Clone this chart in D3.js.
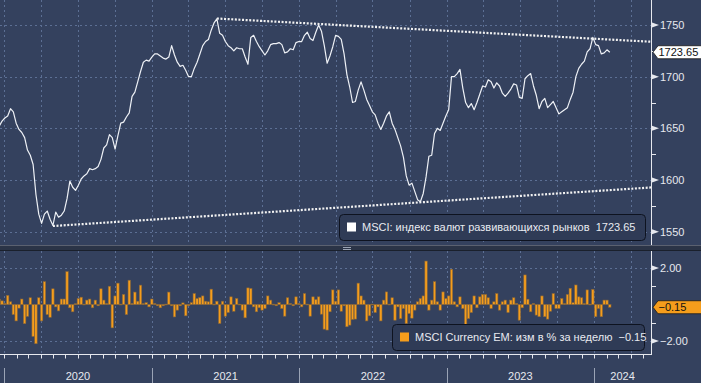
<!DOCTYPE html>
<html>
<head>
<meta charset="utf-8">
<script src="https://cdn.jsdelivr.net/npm/d3@7/dist/d3.min.js"></script>
<style>
  body { margin: 0; background: #34415e; }
  svg { display: block; font-family: "Liberation Sans", Arial, sans-serif; }
</style>
</head>
<body>
<div id="chart"></div>
<script>
// weekly series, first point on Fri 20 Dec 2019
const firstWeek = new Date(2019, 11, 20);

const lineValues = [
  1652, 1657, 1660, 1662, 1669, 1666, 1655, 1649, 1646, 1641,
  1629, 1624, 1615, 1586, 1567, 1558, 1567, 1570, 1562, 1556,
  1569, 1564, 1566, 1570, 1582, 1599, 1593, 1590, 1595, 1601,
  1604, 1606, 1611, 1610, 1611, 1613, 1620, 1631, 1634, 1644,
  1641, 1630, 1643, 1655, 1656, 1661, 1665, 1681, 1685, 1695,
  1705, 1714, 1716, 1715, 1719, 1722, 1722, 1720, 1718, 1717,
  1719, 1730, 1721, 1714, 1710, 1711, 1706, 1700, 1700, 1708,
  1714, 1722, 1730, 1734, 1736, 1745, 1752, 1756, 1742, 1740,
  1734, 1730, 1728, 1725, 1728, 1727, 1727, 1719, 1712, 1738,
  1740, 1734, 1729, 1725, 1721, 1725, 1731, 1732, 1732, 1733,
  1731, 1723, 1724, 1727, 1726, 1733, 1734, 1734, 1740, 1743,
  1737, 1735, 1743, 1750, 1744, 1730, 1713, 1720, 1729, 1740,
  1739, 1736, 1722, 1702, 1690, 1675, 1676, 1687, 1695, 1687,
  1678, 1672, 1666, 1663, 1655, 1649, 1655, 1662, 1666, 1655,
  1649, 1641, 1633, 1622, 1604, 1595, 1597, 1589, 1581, 1579,
  1587, 1603, 1623, 1624, 1645, 1650, 1648, 1655, 1662, 1668,
  1700, 1700, 1703, 1707, 1689, 1675, 1670, 1674, 1668, 1675,
  1683, 1691, 1690, 1697, 1695, 1689, 1694, 1691, 1684, 1681,
  1684, 1688, 1693, 1692, 1680, 1679, 1698, 1701, 1703, 1691,
  1682, 1669, 1676, 1679, 1670, 1673, 1676, 1670, 1664, 1666,
  1668, 1670, 1678, 1685, 1700, 1708, 1712, 1715, 1724, 1727,
  1738, 1731, 1730, 1722, 1723, 1726, 1723.65
];

const barValues = [
  0.29, 0.2, 0.05, 0.5, 0.15, -0.55, -0.9, -0.2, 0.3, -1.05,
  -0.65, 0.37, -1.75, -2.15, 0.37, -0.9, 1.25, -0.55, -0.7, 0.86,
  -0.13, -0.35, 0.3, 0.3, 1.8, -0.18, -0.4, 0.04, 0.33, 0.4,
  0.02, 0.24, 0.3, -0.18, 0.24, -0.07, 0.86, 0.24, 0.05, 1.0,
  -1.28, 0.47, 1.17, 0.02, 0.55, -0.55, 1.33, 0.05, 0.68, 0.18,
  1.06, 0.05, 0.1, -0.13, 0.3, 0.05, -0.07, -0.18, -0.07, 0.02,
  0.68, -0.07, -0.68, -0.31, -0.07, 0.09, -0.62, -0.07, 0.1, 0.6,
  0.33, 0.38, 0.47, 0.18, 0.15, 0.84, 0.02, 0.18, -1.04, 0.18,
  -0.64, -0.44, 0.42, -0.37, 0.33, 0.02, -0.31, -0.73, 0.91, 0.88,
  -0.13, -0.4, -0.18, -0.31, -0.22, 0.47, 0.24, 0.02, -0.07, 0.1,
  -0.22, -0.64, 0.37, 0.05, -0.07, 0.42, 0.05, -0.13, 0.6, 0.02,
  -0.64, 0.42, 0.27, 0.42, -0.53, -1.35, -1.4, -0.4, 0.8, 0.18,
  0.8, -0.37, -0.07, -1.22, -1.13, -0.82, -0.8, 1.17, 0.47, 0.24,
  -0.9, -0.62, 0.02, -0.44, -0.13, -0.9, 0.24, 0.69, 0.02, 0.37,
  -0.86, -0.13, -0.77, -0.22, -1.04, -0.5, -0.75, -0.31, 0.15, 0.33,
  0.47, 2.38, -0.31, 0.24, 1.25, 0.15, -0.31, 0.69, 0.33, 0.47,
  1.93, 0.15, -0.13, 0.42, -0.22, -1.12, -0.77, -0.44, 0.47, -0.18,
  0.42, 0.55, 0.55, 0.37, -0.22, 0.15, 0.6, -0.31, 0.15, 0.24,
  -0.44, 0.24, 0.37, 0.05, -0.86, -0.18, 1.62, 0.29, -0.4, 0.05,
  -0.58, -0.67, 0.47, -0.67, -0.8, -0.37, 0.6, -0.22, -0.22, 0.33,
  0.05, 0.55, 0.89, 0.1, 1.07, 0.42, 0.37, 0.05, 0.8, 0.02,
  0.83, -0.67, -0.22, -0.67, 0.24, 0.24, -0.15
];

const upperTrend = [[new Date(2021, 5, 11), 1756.3], [new Date(2024, 4, 21), 1733.8]];
const lowerTrend = [[new Date(2020, 4, 1), 1555.5], [new Date(2024, 4, 21), 1592.8]];

const upperTicks = [1550, 1600, 1650, 1700, 1750];
const upperMinor = [1575, 1625, 1675, 1725];
const lowerTicks = [-2, 2];
const lowerMinor = [-1, 1];
const years = [2020, 2021, 2022, 2023, 2024];

const lineName = "MSCI: индекс валют развивающихся рынков";
const barName = "MSCI Currency EM: изм в % за неделю";

const W = 701, H = 383;
const plotRight = 651;
const upper = { top: 0, bottom: 245 };
const lower = { top: 251, bottom: 354 };

const weeks = d3.range(lineValues.length).map(i => d3.timeWeek.offset(firstWeek, i));
const lineData = weeks.map((d, i) => ({ date: d, value: lineValues[i] }));
const barData = weeks.map((d, i) => ({ date: d, value: barValues[i] }));

const x = d3.scaleTime()
  .domain([new Date(2019, 11, 22), new Date(2024, 4, 21)])
  .range([0, plotRight]);
const y = d3.scaleLinear().domain([1550, 1750]).range([231.7, 25]);
const yb = d3.scaleLinear().domain([-2, 2]).range([341, 268]);

const svg = d3.select("#chart").append("svg")
  .attr("width", W).attr("height", H);

svg.append("rect").attr("width", W).attr("height", H).attr("fill", "#34415e");

const clip = svg.append("defs");
clip.append("clipPath").attr("id", "clipUp")
  .append("rect").attr("x", 0).attr("y", upper.top).attr("width", plotRight).attr("height", upper.bottom - upper.top);
clip.append("clipPath").attr("id", "clipLo")
  .append("rect").attr("x", 0).attr("y", lower.top).attr("width", plotRight).attr("height", lower.bottom - lower.top);

const gridColor = "#5c6f94";
const quarters = d3.timeMonth.every(3).range(x.domain()[0], x.domain()[1]);

// vertical grid, both panels
[upper, lower].forEach(p => {
  svg.append("g").selectAll("line").data(quarters).join("line")
    .attr("x1", d => Math.round(x(d)) + 0.5).attr("x2", d => Math.round(x(d)) + 0.5)
    .attr("y1", p.top).attr("y2", p.bottom)
    .attr("stroke", gridColor).attr("stroke-dasharray", "2,3");
});

// horizontal grid
svg.append("g").selectAll("line").data(upperTicks).join("line")
  .attr("x1", 0).attr("x2", plotRight)
  .attr("y1", d => Math.round(y(d)) + 0.5).attr("y2", d => Math.round(y(d)) + 0.5)
  .attr("stroke", gridColor).attr("stroke-dasharray", "2,3");
svg.append("g").selectAll("line").data(lowerTicks).join("line")
  .attr("x1", 0).attr("x2", plotRight)
  .attr("y1", d => Math.round(yb(d)) + 0.5).attr("y2", d => Math.round(yb(d)) + 0.5)
  .attr("stroke", gridColor).attr("stroke-dasharray", "2,3");

// trend lines
const trendLine = d3.line().x(d => x(d[0])).y(d => y(d[1]));
svg.append("g").attr("clip-path", "url(#clipUp)").selectAll("path")
  .data([upperTrend, lowerTrend]).join("path")
  .attr("d", trendLine)
  .attr("fill", "none").attr("stroke", "#f2f2f2")
  .attr("stroke-width", 2.2).attr("stroke-dasharray", "2,1.6");

// index line
svg.append("path").datum(lineData)
  .attr("clip-path", "url(#clipUp)")
  .attr("d", d3.line().x(d => x(d.date)).y(d => y(d.value)))
  .attr("fill", "none").attr("stroke", "#eef1f6").attr("stroke-width", 1.2)
  .attr("stroke-linejoin", "round");

// weekly change bars
svg.append("g").attr("clip-path", "url(#clipLo)").selectAll("rect")
  .data(barData).join("rect")
  .attr("x", d => x(d.date) - 1.2)
  .attr("width", 2.4)
  .attr("y", d => Math.min(yb(d.value), yb(0)))
  .attr("height", d => Math.max(0.8, Math.abs(yb(d.value) - yb(0))))
  .attr("fill", "#f59d1c").attr("stroke", "#86653a").attr("stroke-width", 0.6);

// panel splitter
svg.append("rect").attr("x", 0).attr("y", 245).attr("width", W).attr("height", 6).attr("fill", "#2b3447");
svg.append("line").attr("x1", 0).attr("x2", W).attr("y1", 245.5).attr("y2", 245.5).attr("stroke", "#5b6170");
svg.append("line").attr("x1", 0).attr("x2", W).attr("y1", 250.5).attr("y2", 250.5).attr("stroke", "#1a202c");
svg.append("g").selectAll("line").data([247, 249]).join("line")
  .attr("x1", 343).attr("x2", 351).attr("y1", d => d + 0.5).attr("y2", d => d + 0.5)
  .attr("stroke", "#9aa3b3");

// right axes
const axisColor = "#e6e8ee";
svg.append("line").attr("x1", plotRight + 0.5).attr("x2", plotRight + 0.5)
  .attr("y1", upper.top).attr("y2", upper.bottom).attr("stroke", axisColor);
svg.append("line").attr("x1", plotRight + 0.5).attr("x2", plotRight + 0.5)
  .attr("y1", lower.top).attr("y2", lower.bottom).attr("stroke", axisColor);

function rightTicks(scale, major, minor, fmt) {
  const g = svg.append("g");
  g.selectAll("path").data(major).join("path")
    .attr("d", d => {
      const yy = scale(d);
      return `M${plotRight + 1},${yy - 2.5}L${plotRight + 8},${yy}L${plotRight + 1},${yy + 2.5}Z`;
    })
    .attr("fill", axisColor);
  g.selectAll("text").data(major).join("text")
    .attr("x", plotRight + 9).attr("y", d => scale(d))
    .attr("dy", "0.36em")
    .attr("font-size", 11).attr("fill", axisColor)
    .text(fmt);
  g.selectAll("line").data(minor).join("line")
    .attr("x1", plotRight).attr("x2", plotRight + 5)
    .attr("y1", d => Math.round(scale(d)) + 0.5).attr("y2", d => Math.round(scale(d)) + 0.5)
    .attr("stroke", axisColor);
}
rightTicks(y, upperTicks, upperMinor, d => d);
rightTicks(yb, lowerTicks, lowerMinor, d3.format(".2f"));

// last value flags
function flag(yy, label, fill) {
  svg.append("path")
    .attr("d", `M${plotRight + 2},${yy}L${plotRight + 7},${yy - 6.5}H${W + 2}V${yy + 6.5}H${plotRight + 7}Z`)
    .attr("fill", fill).attr("stroke", "#1b1b1b").attr("stroke-width", 0.8);
  svg.append("text")
    .attr("x", plotRight + 7.5).attr("y", yy).attr("dy", "0.36em")
    .attr("font-size", 11).attr("fill", "#111").text(label);
}
const lastLine = lineValues[lineValues.length - 1];
const lastBar = barValues[barValues.length - 1];
flag(y(lastLine), d3.format(".2f")(lastLine), "#ffffff");
flag(yb(lastBar), d3.format(".2f")(lastBar), "#f59d1c");

// date axis
svg.append("line").attr("x1", 0).attr("x2", plotRight + 1)
  .attr("y1", 354.5).attr("y2", 354.5).attr("stroke", axisColor);
const months = d3.timeMonth.range(x.domain()[0], x.domain()[1]);
svg.append("g").selectAll("line").data(months).join("line")
  .attr("x1", d => Math.round(x(d)) + 0.5).attr("x2", d => Math.round(x(d)) + 0.5)
  .attr("y1", 354).attr("y2", 358.5).attr("stroke", axisColor);

const yearStarts = years.map(yr => new Date(yr, 0, 1));
svg.append("g").selectAll("line").data(yearStarts).join("line")
  .attr("x1", d => Math.round(x(d)) + 0.5).attr("x2", d => Math.round(x(d)) + 0.5)
  .attr("y1", 368).attr("y2", 383).attr("stroke", "#9aa3b5");
svg.append("g").selectAll("text").data(years).join("text")
  .attr("x", yr => {
    const a = Math.max(0, x(new Date(yr, 0, 1)));
    const b = Math.min(plotRight, x(new Date(yr + 1, 0, 1)));
    return (a + b) / 2;
  })
  .attr("y", 376).attr("dy", "0.36em")
  .attr("text-anchor", "middle").attr("font-size", 11).attr("fill", axisColor)
  .text(d => d);

// legends
function legend(x0, y0, w, h, color, text) {
  const g = svg.append("g");
  g.append("rect").attr("x", x0 + 0.5).attr("y", y0 + 0.5).attr("width", w).attr("height", h)
    .attr("rx", 4).attr("fill", "#2f3b56").attr("stroke", "#0e1320").attr("stroke-width", 1);
  g.append("rect").attr("x", x0 + 8).attr("y", y0 + h / 2 - 4.5).attr("width", 9).attr("height", 9)
    .attr("fill", color);
  g.append("text").attr("x", x0 + 23).attr("y", y0 + h / 2).attr("dy", "0.36em")
    .attr("font-size", 11).attr("fill", "#e8eaf0")
    .attr("xml:space", "preserve")
    .text(text);
}
legend(339, 214, 306, 26, "#ffffff", lineName + "  " + d3.format(".2f")(lastLine));
legend(392, 324, 252, 26, "#f59d1c", barName + "  " + d3.format(".2f")(lastBar));
</script>
</body>
</html>
